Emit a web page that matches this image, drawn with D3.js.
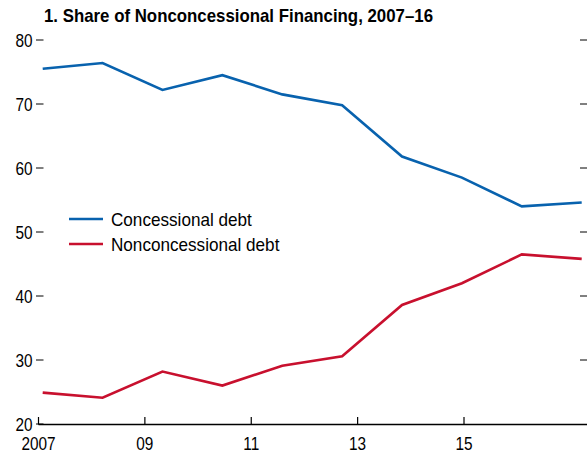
<!DOCTYPE html>
<html><head><meta charset="utf-8">
<script src="https://cdn.jsdelivr.net/npm/d3@7"></script>
<style>
body{margin:0;background:#fff;}
svg{display:block;}
text{font-family:"Liberation Sans",Arial,sans-serif;fill:#000;}
</style></head>
<body>
<svg id="chart" width="587" height="453"></svg>
<script>
const title = "1. Share of Nonconcessional Financing, 2007–16";
const years = [2007, 2008, 2009, 2010, 2011, 2012, 2013, 2014, 2015, 2016];
const concessional = [75.5, 76.4, 72.2, 74.5, 71.5, 69.8, 61.8, 58.5, 54.0, 54.6];
const nonconcessional = [24.9, 24.1, 28.2, 26.0, 29.1, 30.6, 38.6, 42.0, 46.5, 45.8];
const seriesNames = ["Concessional debt", "Nonconcessional debt"];
const seriesColors = ["#0862ae", "#c8102e"];
const yTicks = [20, 30, 40, 50, 60, 70, 80];
const xTickYears = [2007, 2009, 2011, 2013, 2015];
const xTickLabels = ["2007", "09", "11", "13", "15"];

function narrow(sel, f) {
  sel.each(function () {
    const w = this.getComputedTextLength();
    this.setAttribute("textLength", (w * f).toFixed(2));
    this.setAttribute("lengthAdjust", "spacingAndGlyphs");
  });
}

const svg = d3.select("#chart");
const y = d3.scaleLinear().domain([20, 80]).range([424, 40]);
const x = d3.scaleLinear().domain([2007, 2016]).range([42.7, 581.7]);
const xTick = d3.scaleLinear().domain([2007, 2015]).range([38.5, 464]);

// title
const t = svg.append("text").attr("x", 44).attr("y", 22)
  .attr("font-size", 18.5).attr("font-weight", "bold").text(title);
t.attr("textLength", 389).attr("lengthAdjust", "spacingAndGlyphs");

// left y ticks
const yl = svg.append("g");
yl.selectAll("line").data(yTicks).join("line")
  .attr("x1", 36).attr("x2", 43.5)
  .attr("y1", d => y(d)).attr("y2", d => y(d))
  .attr("stroke", "#000").attr("stroke-width", 1);
yl.selectAll("text").data(yTicks).join("text")
  .attr("x", 32.5).attr("y", d => y(d)).attr("dy", "0.36em")
  .attr("text-anchor", "end").attr("font-size", 18.5).text(d => d).call(narrow, 0.83);

// right y ticks (skip 20)
svg.append("g").selectAll("line").data(yTicks.filter(d => d > 20)).join("line")
  .attr("x1", 580).attr("x2", 587)
  .attr("y1", d => y(d)).attr("y2", d => y(d))
  .attr("stroke", "#000").attr("stroke-width", 1);

// x axis
svg.append("line").attr("x1", 38.5).attr("x2", 587)
  .attr("y1", y(20) + 0.5).attr("y2", y(20) + 0.5)
  .attr("stroke", "#000").attr("stroke-width", 1.3);
const xg = svg.append("g");
xg.selectAll("line").data(xTickYears).join("line")
  .attr("x1", d => xTick(d)).attr("x2", d => xTick(d))
  .attr("y1", y(20) - 7).attr("y2", y(20) + 0.5)
  .attr("stroke", "#000").attr("stroke-width", 1.2);
xg.selectAll("text").data(xTickYears).join("text")
  .attr("x", d => xTick(d)).attr("y", 450)
  .attr("text-anchor", "middle").attr("font-size", 18.5)
  .text((d, i) => xTickLabels[i]).call(narrow, 0.83);

// lines
const line = d3.line().x((d, i) => x(years[i])).y(d => y(d));
[concessional, nonconcessional].forEach((s, k) => {
  svg.append("path").datum(s).attr("d", line)
    .attr("fill", "none").attr("stroke", seriesColors[k])
    .attr("stroke-width", 2.6).attr("stroke-linejoin", "miter");
});

// legend
const lg = svg.append("g");
seriesNames.forEach((n, k) => {
  const yy = 219 + k * 25;
  lg.append("line").attr("x1", 69).attr("x2", 103).attr("y1", yy).attr("y2", yy)
    .attr("stroke", seriesColors[k]).attr("stroke-width", 2.6);
  lg.append("text").attr("x", 111).attr("y", yy).attr("dy", "0.36em")
    .attr("font-size", 18.5).text(n).call(narrow, 0.925);
});
</script>
</body></html>
